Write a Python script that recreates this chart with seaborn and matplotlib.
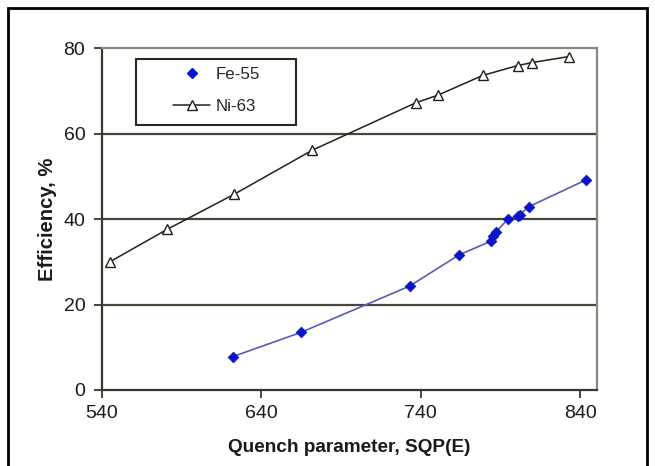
import matplotlib
matplotlib.use("Agg")
import matplotlib.pyplot as plt
from matplotlib.lines import Line2D
from matplotlib.patches import Rectangle
from matplotlib.legend_handler import HandlerLine2D
import seaborn as sns
import pandas as pd

# ---- data ----
ni_x = [545, 581, 623, 672, 737, 751, 779, 801, 810, 833]
ni_y = [30.0, 37.6, 45.8, 56.1, 67.2, 69.0, 73.6, 75.9, 76.6, 78.0]

fe_x = [622, 665, 733, 764, 784, 785.5, 787, 795, 801, 802, 808, 844]
fe_y = [7.8, 13.5, 24.3, 31.6, 34.8, 36.0, 36.9, 40.1, 40.6, 41.0, 42.9, 49.2]

x_ticks = [540, 640, 740, 840]
y_ticks = [0, 20, 40, 60, 80]
labels = ["Fe-55", "Ni-63"]

ni = pd.DataFrame({"x": ni_x, "y": ni_y})
fe = pd.DataFrame({"x": fe_x, "y": fe_y})

sns.set_theme(style="white")
plt.rcParams["font.family"] = ["Liberation Sans", "DejaVu Sans"]

fig = plt.figure(figsize=(6.55, 4.66), dpi=100)
ax = fig.add_axes([102 / 655, 1 - 390 / 466, (596.5 - 102) / 655, (390 - 48) / 466])

dark = "#3b362c"
grid_c = "#4a4538"
light = "#8e877e"
blue = "#0a14c8"

for gy in [20, 40, 60]:
    ax.axhline(gy, color=grid_c, lw=1.6, zorder=1)

sns.lineplot(data=ni, x="x", y="y", ax=ax, color="#222018", lw=1.1,
             marker="^", markersize=7, markerfacecolor="white",
             markeredgecolor="#222018", markeredgewidth=1.0, zorder=3)

sns.lineplot(data=fe, x="x", y="y", ax=ax, color="#5a5ab4", lw=1.2,
             sort=True, estimator=None, zorder=2)
sns.scatterplot(data=fe, x="x", y="y", ax=ax, marker="D", s=30,
                color=blue, edgecolor=blue, linewidth=0.5, zorder=4)

ax.set_xlim(540, 850.3)
ax.set_ylim(0, 80)
ax.set_xticks(x_ticks)
ax.set_yticks(y_ticks)
ax.tick_params(axis="both", direction="out", length=6, width=1.3, color=dark,
               labelsize=14, labelcolor="#1a1a1a", bottom=True, left=True)
ax.tick_params(axis="x", pad=5)
ax.tick_params(axis="y", pad=6)

for s in ["left", "bottom"]:
    ax.spines[s].set_color(dark)
    ax.spines[s].set_linewidth(1.6)
for s in ["top", "right"]:
    ax.spines[s].set_color(light)
    ax.spines[s].set_linewidth(1.6)

ax.set_xlabel("Quench parameter, SQP(E)", fontsize=13.7, fontweight="bold",
              color="#1a1a1a", labelpad=12)
ax.set_ylabel("Efficiency, %", fontsize=14.6, fontweight="bold",
              color="#1a1a1a", labelpad=5)


class PadHandler(HandlerLine2D):
    def __init__(self, pad, **kw):
        super().__init__(**kw)
        self.pad = pad

    def create_artists(self, legend, orig_handle, xdescent, ydescent, width,
                       height, fontsize, trans):
        return super().create_artists(legend, orig_handle, xdescent - self.pad,
                                      ydescent, width - self.pad, height,
                                      fontsize, trans)


h_fe = Line2D([], [], ls="none", marker="D", markersize=5.5, color=blue)
h_ni = Line2D([], [], color="#222018", lw=1.1, marker="^", markersize=7,
              markerfacecolor="white", markeredgecolor="#222018")
fs_leg = 12.2
em = fs_leg / 72 * 100
pad_pt = 28 * 0.72
leg = ax.legend([h_fe, h_ni], labels, loc="upper left",
                bbox_to_anchor=((145 - 102) / 494.5, 1 - (67 - 48) / 342),
                fontsize=fs_leg, frameon=False, borderpad=0,
                labelspacing=1.02, handlelength=65 / em,
                handletextpad=6 / em, borderaxespad=0,
                handler_map={h_fe: PadHandler(pad_pt), h_ni: PadHandler(pad_pt)})
leg.set_zorder(6)

ax.add_patch(Rectangle(((135.5 - 102) / 494.5, 1 - (125 - 48) / 342),
                       (296 - 135.5) / 494.5, (125 - 59) / 342,
                       transform=ax.transAxes, facecolor="white",
                       edgecolor="#2a2620", lw=1.5, zorder=5))

fig.add_artist(Rectangle((8 / 655, -0.05), 639 / 655, 1.05 - 8 / 466,
                         transform=fig.transFigure, fill=False,
                         lw=2.0, edgecolor="black", clip_on=False))

fig.savefig("out.png", dpi=100)
